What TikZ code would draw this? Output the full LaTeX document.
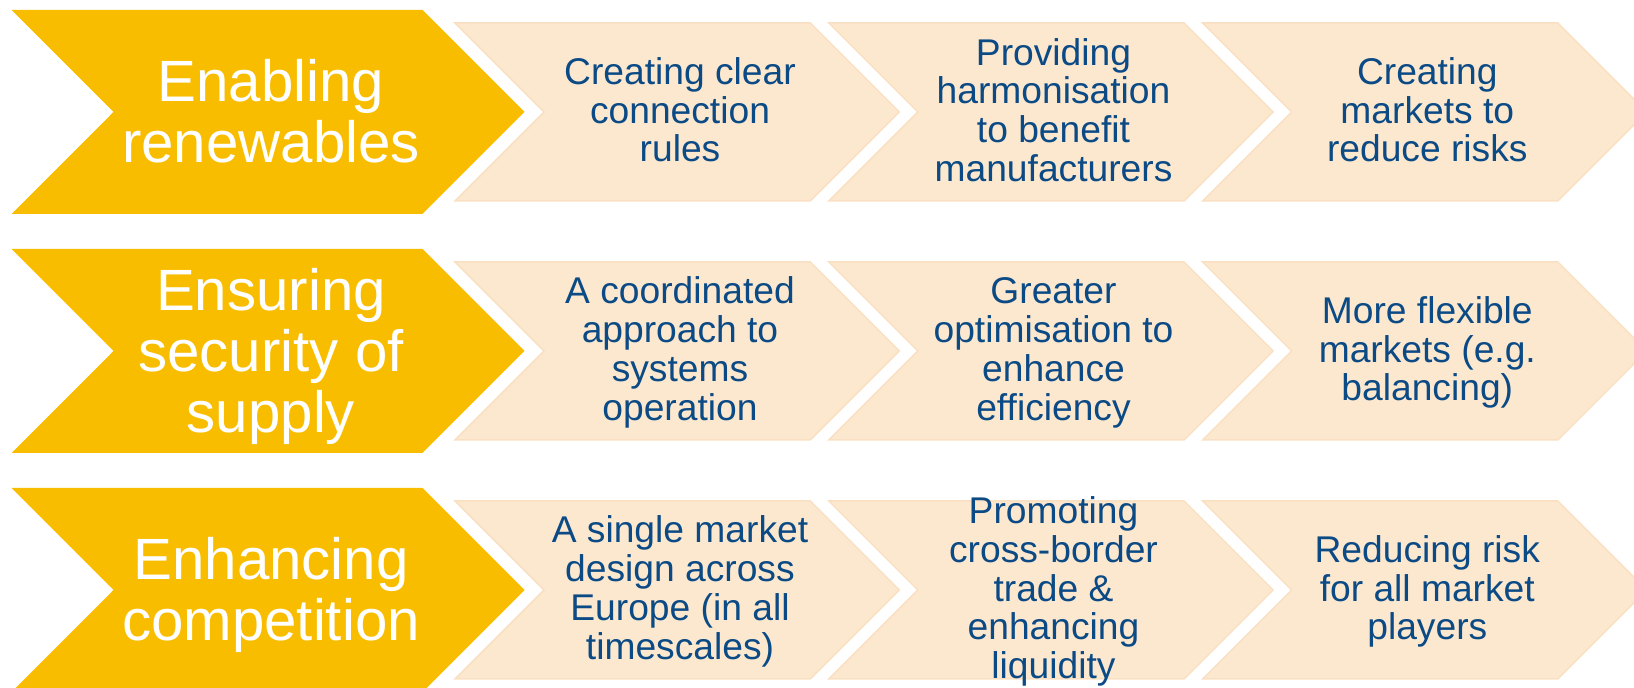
\documentclass[tikz,border=0pt]{standalone}
\usepackage{fontspec}
\setmainfont{Liberation Sans}
\definecolor{ygold}{HTML}{F9BD00}
\definecolor{peach}{HTML}{FCE8CF}
\definecolor{peachline}{HTML}{FAE0C2}
\definecolor{navy}{HTML}{0B4A85}
\newcommand\lnstrut{\rule[-0.2em]{0pt}{1em}}
\begin{document}
\begin{tikzpicture}[x=0.5pt,y=-0.5pt,
  yshape/.style={fill=ygold},
  pshape/.style={fill=peach,draw=peachline,line width=0.75pt},
  ytext/.style={text=white,align=center,inner sep=0pt,font=\fontsize{29.1pt}{30.5pt}\selectfont},
  ptext/.style={text=navy,align=center,inner sep=0pt,font=\fontsize{18.6pt}{19.35pt}\selectfont}]
\useasboundingbox (0,0) rectangle (1634,688);
\clip (0,0) rectangle (1634,688);
\foreach \c in {112,351,590}{
  \fill[yshape] (11.7,\c-102) -- (422.5,\c-102) -- (524.5,\c) -- (422.5,\c+102) -- (11.7,\c+102) -- (113.5,\c) -- cycle;
  \foreach \L in {455,828.8,1202.6}{
    \filldraw[pshape] (\L,\c-89) -- ++(355.3,0) -- ++(89,89) -- ++(-89,89) -- ++(-355.3,0) -- ++(89,-89) -- cycle;
  }
}
% row 1
\node[ytext] (y1) at (271,115) {\lnstrut Enabling\\\lnstrut renewables};
\node[ptext] (b11) at (680,112) {\lnstrut Creating clear\\\lnstrut connection\\\lnstrut rules};
\node[ptext] (b12) at (1053.5,112) {\lnstrut Providing\\\lnstrut harmonisation\\\lnstrut to benefit\\\lnstrut manufacturers};
\node[ptext] (b13) at (1427.3,112) {\lnstrut Creating\\\lnstrut markets to\\\lnstrut reduce risks};
% row 2
\node[ytext] (y2) at (271,354) {\lnstrut Ensuring\\\lnstrut security of\\\lnstrut supply};
\node[ptext] (b21) at (680,351) {\lnstrut A coordinated\\\lnstrut approach to\\\lnstrut systems\\\lnstrut operation};
\node[ptext] (b22) at (1053.5,351) {\lnstrut Greater\\\lnstrut optimisation to\\\lnstrut enhance\\\lnstrut efficiency};
\node[ptext] (b23) at (1427.3,351) {\lnstrut More flexible\\\lnstrut markets (e.g.\\\lnstrut balancing)};
% row 3
\node[ytext] (y3) at (271,593) {\lnstrut Enhancing\\\lnstrut competition};
\node[ptext] (b31) at (680,590) {\lnstrut A single market\\\lnstrut design across\\\lnstrut Europe (in all\\\lnstrut timescales)};
\node[ptext] (b32) at (1053.5,590) {\lnstrut Promoting\\\lnstrut cross-border\\\lnstrut trade \&\\\lnstrut enhancing\\\lnstrut liquidity};
\node[ptext] (b33) at (1427.3,590) {\lnstrut Reducing risk\\\lnstrut for all market\\\lnstrut players};
\end{tikzpicture}
\end{document}
